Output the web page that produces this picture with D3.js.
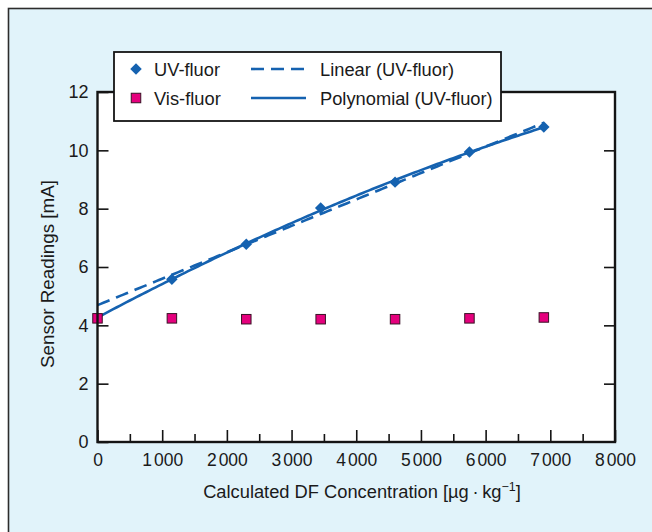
<!DOCTYPE html>
<html>
<head>
<meta charset="utf-8">
<script src="https://cdn.jsdelivr.net/npm/d3@7"></script>
<style>
  html, body { margin: 0; padding: 0; background: #ffffff; }
  svg { display: block; font-family: "Liberation Sans", Arial, sans-serif; }
</style>
</head>
<body>
<svg id="chart" width="652" height="532"></svg>
<script>
// Concentrations of the calibration standards (µg/kg)
const uvConc  = [1150, 2300, 3450, 4600, 5750, 6900];
const uvRead  = [5.58, 6.78, 8.02, 8.91, 9.94, 10.80];
const visConc = [0, 1150, 2300, 3450, 4600, 5750, 6900];
const visRead = [4.24, 4.24, 4.21, 4.21, 4.21, 4.24, 4.27];

const xTicks      = [0, 1000, 2000, 3000, 4000, 5000, 6000, 7000, 8000];
const xMinorTicks = [500, 1500, 2500, 3500, 4500, 5500, 6500, 7500];
const yTicks      = [0, 2, 4, 6, 8, 10, 12];
const yRightTicks = [2, 4, 6, 8, 10];

const legendItems = ["UV-fluor", "Vis-fluor", "Linear (UV-fluor)", "Polynomial (UV-fluor)"];

const BLUE = "#1562b0";
const PINK = "#e5007d";
const INK  = "#141414";
const TEXT_SIZE = 18.3;

const svg = d3.select("#chart");

// Panel background with its top/left rule
svg.append("rect")
  .attr("x", 8.5).attr("y", 8.5)
  .attr("width", 700).attr("height", 600)
  .attr("fill", "#e1f3fa")
  .attr("stroke", "#2c2c2c").attr("stroke-width", 1.6);

const x = d3.scaleLinear().domain([0, 8000]).range([97.5, 615]);
const y = d3.scaleLinear().domain([0, 12]).range([442, 92]);

// Plot area
svg.append("rect")
  .attr("x", x(0)).attr("y", y(12))
  .attr("width", x(8000) - x(0)).attr("height", y(0) - y(12))
  .attr("fill", "#ffffff");

// Least-squares polynomial fit (normal equations, Gaussian elimination)
function polyFit(xs, ys, order) {
  const n = order + 1;
  const A = Array.from({length: n}, () => new Array(n + 1).fill(0));
  for (let i = 0; i < xs.length; i++) {
    for (let r = 0; r < n; r++) {
      for (let c = 0; c < n; c++) A[r][c] += Math.pow(xs[i], r + c);
      A[r][n] += ys[i] * Math.pow(xs[i], r);
    }
  }
  for (let p = 0; p < n; p++) {
    let best = p;
    for (let r = p + 1; r < n; r++) if (Math.abs(A[r][p]) > Math.abs(A[best][p])) best = r;
    [A[p], A[best]] = [A[best], A[p]];
    for (let r = 0; r < n; r++) {
      if (r === p) continue;
      const f = A[r][p] / A[p][p];
      for (let c = p; c <= n; c++) A[r][c] -= f * A[p][c];
    }
  }
  const coef = A.map((row, i) => row[n] / row[i]);
  return v => coef.reduce((s, k, i) => s + k * Math.pow(v, i), 0);
}

const linFit  = polyFit(uvConc, uvRead, 1);
const quadFit = polyFit(uvConc, uvRead, 2);
const fitXs = d3.range(0, 6900 + 1, 50);

const line = d3.line().x(d => x(d[0])).y(d => y(d[1]));

svg.append("path")
  .datum(fitXs.map(v => [v, linFit(v)]))
  .attr("d", line)
  .attr("fill", "none").attr("stroke", BLUE)
  .attr("stroke-width", 2.6).attr("stroke-dasharray", "13,7");

svg.append("path")
  .datum(fitXs.map(v => [v, quadFit(v)]))
  .attr("d", line)
  .attr("fill", "none").attr("stroke", BLUE)
  .attr("stroke-width", 2.6);

// UV-fluor markers (diamonds)
const diamond = d3.symbol().type(d3.symbolSquare).size(66);
svg.append("g").selectAll("path")
  .data(uvConc.map((c, i) => [c, uvRead[i]]))
  .join("path")
  .attr("d", diamond)
  .attr("transform", d => `translate(${x(d[0])},${y(d[1])}) rotate(45)`)
  .attr("fill", BLUE);

// Vis-fluor markers (squares)
svg.append("g").selectAll("rect")
  .data(visConc.map((c, i) => [c, visRead[i]]))
  .join("rect")
  .attr("x", d => x(d[0]) - 4.75).attr("y", d => y(d[1]) - 4.75)
  .attr("width", 9.5).attr("height", 9.5)
  .attr("fill", PINK).attr("stroke", "#3a1226").attr("stroke-width", 1);

// Axes: ticks point into the plot
const fmt = d3.format("d");
const axisStyle = g => {
  g.select(".domain").remove();
  g.selectAll("line").attr("stroke", INK).attr("stroke-width", 1.6);
  g.selectAll("text").attr("fill", "#1a1a1a").attr("font-size", 17.5)
    .attr("font-family", "'Liberation Sans', Arial, sans-serif");
};

// Thousands are typeset with a small gap after the leading digit
const thousandsGap = g => {
  g.selectAll(".tick text").each(function () {
    const t = d3.select(this);
    const s = t.text();
    if (s.length < 4) return;
    t.text(null);
    t.append("tspan").text(s.slice(0, s.length - 3));
    t.append("tspan").attr("dx", 2).text(s.slice(-3));
  });
};

svg.append("g")
  .attr("transform", `translate(0,${y(0)})`)
  .call(d3.axisBottom(x).tickValues(xTicks).tickSize(-12).tickPadding(12).tickFormat(fmt))
  .call(axisStyle)
  .call(thousandsGap);

svg.append("g")
  .attr("transform", `translate(0,${y(0)})`)
  .call(d3.axisBottom(x).tickValues(xMinorTicks).tickSize(-8).tickFormat(""))
  .call(axisStyle);

svg.append("g")
  .attr("transform", `translate(${x(0)},0)`)
  .call(d3.axisLeft(y).tickValues(yTicks).tickSize(-11).tickPadding(9).tickFormat(fmt))
  .call(axisStyle)
  .call(g => g.selectAll("text").attr("font-size", 18));

svg.append("g")
  .attr("transform", `translate(${x(8000)},0)`)
  .call(d3.axisRight(y).tickValues(yRightTicks).tickSize(-11).tickFormat(""))
  .call(axisStyle);

// Plot frame
svg.append("rect")
  .attr("x", x(0)).attr("y", y(12))
  .attr("width", x(8000) - x(0)).attr("height", y(0) - y(12))
  .attr("fill", "none").attr("stroke", INK).attr("stroke-width", 2.4);

// Axis titles
const xTitle = svg.append("text")
  .attr("x", 362).attr("y", 498)
  .attr("text-anchor", "middle")
  .attr("font-size", TEXT_SIZE).attr("fill", "#1a1a1a");
xTitle.append("tspan").text("Calculated DF Concentration [µg\u2009·\u2009kg");
xTitle.append("tspan").attr("dy", -7).attr("font-size", 12.5).text("\u22121");
xTitle.append("tspan").attr("dy", 7).text("]");

svg.append("text")
  .attr("transform", "translate(54,274) rotate(-90)")
  .attr("text-anchor", "middle")
  .attr("font-size", 18.8).attr("fill", "#1a1a1a")
  .text("Sensor Readings [mA]");

// Legend
const lg = svg.append("g");
lg.append("rect")
  .attr("x", 114).attr("y", 52).attr("width", 387).attr("height", 69)
  .attr("fill", "#ffffff").attr("stroke", INK).attr("stroke-width", 1.8);

lg.append("path")
  .attr("d", diamond)
  .attr("transform", "translate(136,69) rotate(45)")
  .attr("fill", BLUE);
lg.append("rect")
  .attr("x", 131.25).attr("y", 93.25).attr("width", 9.5).attr("height", 9.5)
  .attr("fill", PINK).attr("stroke", "#3a1226").attr("stroke-width", 1);
lg.append("line")
  .attr("x1", 251).attr("x2", 306).attr("y1", 69).attr("y2", 69)
  .attr("stroke", BLUE).attr("stroke-width", 2.6).attr("stroke-dasharray", "13,7");
lg.append("line")
  .attr("x1", 251).attr("x2", 306).attr("y1", 98).attr("y2", 98)
  .attr("stroke", BLUE).attr("stroke-width", 2.6);

const legendPos = [[154, 69], [154, 98], [320, 69], [320, 98]];
lg.selectAll("text.item")
  .data(legendItems)
  .join("text")
  .attr("class", "item")
  .attr("x", (d, i) => legendPos[i][0])
  .attr("y", (d, i) => legendPos[i][1])
  .attr("dy", "0.36em")
  .attr("font-size", TEXT_SIZE).attr("fill", "#1a1a1a")
  .text(d => d);
</script>
</body>
</html>
